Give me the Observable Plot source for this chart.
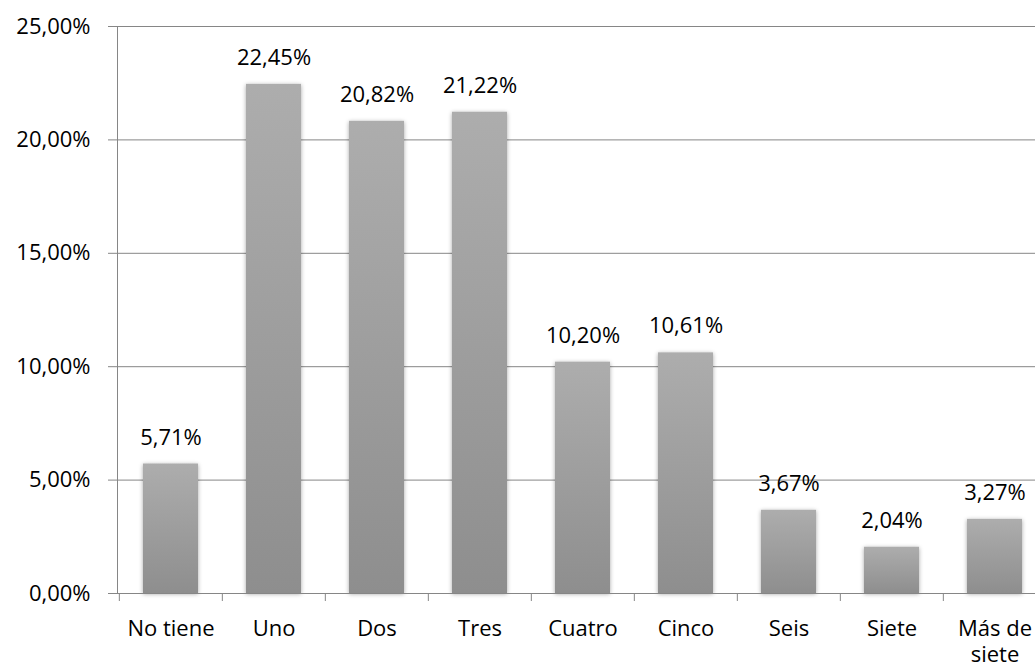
<!DOCTYPE html>
<html>
<head>
<meta charset="utf-8">
<script src="https://cdn.jsdelivr.net/npm/d3@7"></script>
<script src="https://cdn.jsdelivr.net/npm/@observablehq/plot@0.6"></script>
<style>
  html, body { margin: 0; padding: 0; background: #fff; overflow: hidden; }
  #chart { width: 1035px; height: 671px; overflow: hidden; }
  #chart svg { max-width: none !important; display: block; }
</style>
</head>
<body>
<div id="chart"></div>
<script>
const categories = ["No tiene", "Uno", "Dos", "Tres", "Cuatro", "Cinco", "Seis", "Siete", "Más de\nsiete"];
const values = [5.71, 22.45, 20.82, 21.22, 10.20, 10.61, 3.67, 2.04, 3.27];
const yTicks = [0, 5, 10, 15, 20, 25];

const data = categories.map((c, i) => ({category: c, value: values[i]}));
const fmt = v => v.toFixed(2).replace(".", ",") + "%";

const W = 1047, H = 671, ML = 117, MR = 0, MT = 26, MB = 78;
const step = (W - ML - MR) / categories.length;
const font = "Open Sans";
const grid = "#868686";

const chart = Plot.plot({
  width: W,
  height: H,
  marginLeft: ML,
  marginRight: MR,
  marginTop: MT,
  marginBottom: MB,
  style: {fontFamily: font, fontSize: "22px", background: "#fff", color: "#000", maxWidth: "none"},
  x: {domain: categories, paddingInner: 0.47, paddingOuter: 0.235, axis: null, label: null},
  y: {domain: [0, 25], axis: null, label: null},
  marks: [
    Plot.gridY(yTicks, {stroke: grid, strokeOpacity: 1, strokeWidth: 1}),
    Plot.axisY({ticks: yTicks, tickFormat: fmt, tickSize: 9, tickPadding: 18, stroke: grid, fill: "#000", fontSize: 22, fontFamily: font, label: null}),
    Plot.barY(data, {x: "category", y: "value", fill: "url(#barGrad)", className: "bars"}),
    Plot.frame({anchor: "left", stroke: grid}),
    Plot.ruleY([0], {stroke: grid}),
    Plot.axisX({tickSize: 8, tickFormat: () => "", dx: -step / 2, stroke: grid, label: null}),
    Plot.axisX({tickSize: 0, tickPadding: 23, fontSize: 22, fontFamily: font, fill: "#000", lineHeight: 1.22, label: null}),
    Plot.text(data, {x: "category", y: "value", text: d => fmt(d.value), dy: -26.5, lineAnchor: "middle", fontSize: 22, fontFamily: font, fill: "#000"})
  ]
});

// gradient + soft shadow defs
const svg = d3.select(chart.tagName.toLowerCase() === "svg" ? chart : chart.querySelector("svg"));
svg.style("max-width", "none");
const defs = svg.insert("defs", ":first-child");
const g = defs.append("linearGradient").attr("id", "barGrad").attr("x1", 0).attr("y1", 0).attr("x2", 0).attr("y2", 1);
g.append("stop").attr("offset", "0%").attr("stop-color", "#adadad");
g.append("stop").attr("offset", "100%").attr("stop-color", "#8e8e8e");
const f = defs.append("filter").attr("id", "barShadow").attr("x", "-20%").attr("y", "-10%").attr("width", "140%").attr("height", "120%");
f.append("feDropShadow").attr("dx", 0).attr("dy", 1).attr("stdDeviation", 2.2).attr("flood-color", "#000").attr("flood-opacity", 0.35);
svg.selectAll(".bars").attr("filter", "url(#barShadow)");

document.getElementById("chart").appendChild(chart);
</script>
</body>
</html>
